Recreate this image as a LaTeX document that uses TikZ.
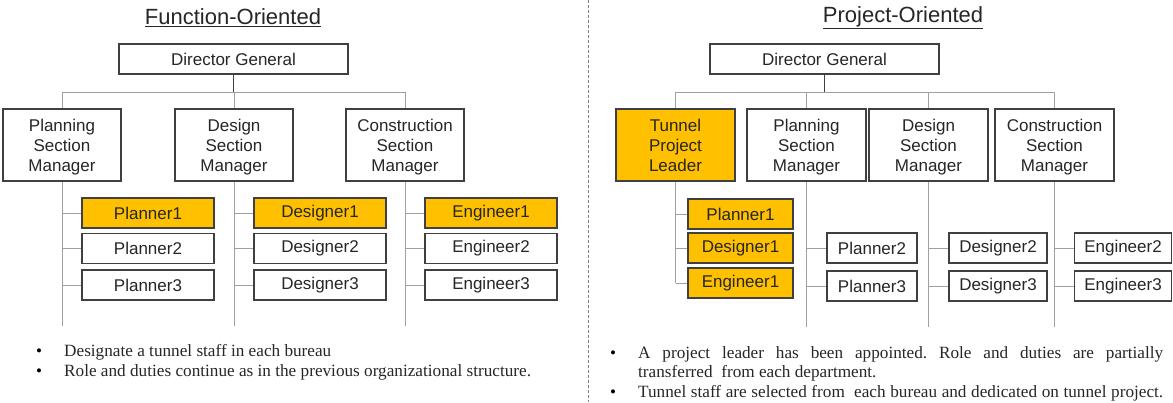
\documentclass[tikz,border=0pt]{standalone}
\usepackage{fontspec}
\setmainfont{Liberation Serif}
\setsansfont{Liberation Sans}
\definecolor{gold}{HTML}{FFC000}
\definecolor{bordergray}{HTML}{404040}
\definecolor{conngray}{HTML}{A0A0A0}
\definecolor{txtgray}{HTML}{262626}
\tikzset{
  box/.style={draw=bordergray, line width=1.2pt, fill=white, inner sep=0pt, align=center,
    font=\sffamily\fontsize{17}{20}\selectfont, text=txtgray},
  hl/.style={box, fill=gold},
  mgr/.style={box, minimum width=118pt, minimum height=72pt, text depth=0pt},
  staff/.style={box, minimum height=30pt},
  conn/.style={draw=conngray, line width=1pt},
  stem/.style={draw=bordergray, line width=1pt},
  ttl/.style={font=\sffamily\fontsize{22}{26}\selectfont, text=txtgray, inner sep=0pt},
  btxt/.style={font=\rmfamily\fontsize{17.2}{20}\selectfont, text=txtgray, inner sep=0pt, anchor=base west},
  bdot/.style={font=\rmfamily\fontsize{17}{20}\selectfont, text=black, inner sep=0pt, anchor=base},
  divider/.style={draw=gray, line width=1pt, dash pattern=on 3pt off 2pt}
}
\frenchspacing
\begin{document}
\begin{tikzpicture}[x=1pt,y=-1pt]
\useasboundingbox (0,0) rectangle (1173,402);
\coordinate (dtop) at (588,0);
\coordinate (dbot) at (588,402);
\draw[divider] (dtop) -- (dbot);

% ---------- Left: Function-Oriented ----------
\node[ttl] (ltitle) at (233,18) {\underline{Function-Oriented}};
\node[box, minimum width=229pt, minimum height=30pt] (ldg) at (233.5,59) {Director General};
\node[mgr] (lpm) at (62,145) {Planning\\Section\\Manager};
\node[mgr] (ldm) at (234,145) {Design\\Section\\Manager};
\node[mgr] (lcm) at (405,145) {Construction\\Section\\Manager};
\coordinate (lbar) at (0,92);
\coordinate (lend) at (0,326);

\node[staff, hl, minimum width=132pt] (lp1) at (148,213) {Planner1};
\node[staff, minimum width=132pt] (lp2) at (148,248.5) {Planner2};
\node[staff, minimum width=132pt] (lp3) at (148,285) {Planner3};
\node[staff, hl, minimum width=132pt] (ld1) at (320,213) {Designer1};
\node[staff, minimum width=132pt] (ld2) at (320,248.5) {Designer2};
\node[staff, minimum width=132pt] (ld3) at (320,285) {Designer3};
\node[staff, hl, minimum width=132pt] (le1) at (491,213) {Engineer1};
\node[staff, minimum width=132pt] (le2) at (491,248.5) {Engineer2};
\node[staff, minimum width=132pt] (le3) at (491,285) {Engineer3};

\draw[conn] (lpm.north) -- (lpm.north |- lbar) -- (lcm.north |- lbar) -- (lcm.north);
\draw[conn] (ldm.north) -- (ldm.north |- lbar);
\draw[stem] (ldg.south) -- (ldg.south |- lbar);
\foreach \m/\s in {lpm/lp, ldm/ld, lcm/le}{
  \draw[conn] (\m.south) -- (\m.south |- lend);
  \foreach \i in {1,2,3}{
    \draw[conn] (\m.south |- \s\i.west) -- (\s\i.west);
  }
}

\node[bdot] (lb1) at (39,356) {•};
\node[btxt] (lt1) at (64,356) {Designate a tunnel staff in each bureau};
\node[bdot] (lb2) at (39,376) {•};
\node[btxt] (lt2) at (64,376) {Role and duties continue as in the previous organizational structure.};

% ---------- Right: Project-Oriented ----------
\node[ttl] (rtitle) at (903,18) {\underline{Project-Oriented}};
\node[box, minimum width=229pt, minimum height=30pt] (rdg) at (824.5,59) {Director General};
\node[mgr, hl, minimum width=119pt] (rtl) at (675.5,145) {Tunnel\\Project\\Leader};
\node[mgr, minimum width=119pt] (rpm) at (806.5,145) {Planning\\Section\\Manager};
\node[mgr, minimum width=119pt] (rdm) at (928.5,145) {Design\\Section\\Manager};
\node[mgr, minimum width=119pt] (rcm) at (1054.5,145) {Construction\\Section\\Manager};
\coordinate (rbar) at (0,92);
\coordinate (rend) at (0,327);

\node[staff, hl, minimum width=105pt] (rp1) at (740.5,214) {Planner1};
\node[staff, hl, minimum width=105pt] (rd1) at (740.5,248) {Designer1};
\node[staff, hl, minimum width=105pt] (re1) at (740.5,283) {Engineer1};
\node[staff, minimum width=90pt] (rp2) at (872,248) {Planner2};
\node[staff, minimum width=90pt] (rp3) at (872,286) {Planner3};
\node[staff, minimum width=98pt] (rd2) at (998,248) {Designer2};
\node[staff, minimum width=98pt] (rd3) at (998,286) {Designer3};
\node[staff, minimum width=97pt] (re2) at (1123,248) {Engineer2};
\node[staff, minimum width=97pt] (re3) at (1123,286) {Engineer3};

\draw[conn] (rtl.north) -- (rtl.north |- rbar) -- (rcm.north |- rbar) -- (rcm.north);
\draw[conn] (rpm.north) -- (rpm.north |- rbar);
\draw[conn] (rdm.north) -- (rdm.north |- rbar);
\draw[stem] (rdg.south) -- (rdg.south |- rbar);
\draw[conn] (rtl.south) -- (rtl.south |- re1.west);
\foreach \s in {rp1, rd1, re1}{
  \draw[conn] (rtl.south |- \s.west) -- (\s.west);
}
\foreach \m/\s in {rpm/rp, rdm/rd, rcm/re}{
  \draw[conn] (\m.south) -- (\m.south |- rend);
  \foreach \i in {2,3}{
    \draw[conn] (\m.south |- \s\i.west) -- (\s\i.west);
  }
}

\node[bdot] (rb1) at (613,358) {•};
\node[btxt] (rt1) at (638,358) {\makebox[525pt][s]{A project leader has been appointed. Role and duties are partially}};
\node[btxt] (rt2) at (638,377.5) {transferred\ \ from each department.};
\node[bdot] (rb2) at (613,397) {•};
\node[btxt] (rt3) at (638,397) {\makebox[525pt][s]{Tunnel staff are selected from\ \ each bureau and dedicated on tunnel project.}};
\end{tikzpicture}
\end{document}
